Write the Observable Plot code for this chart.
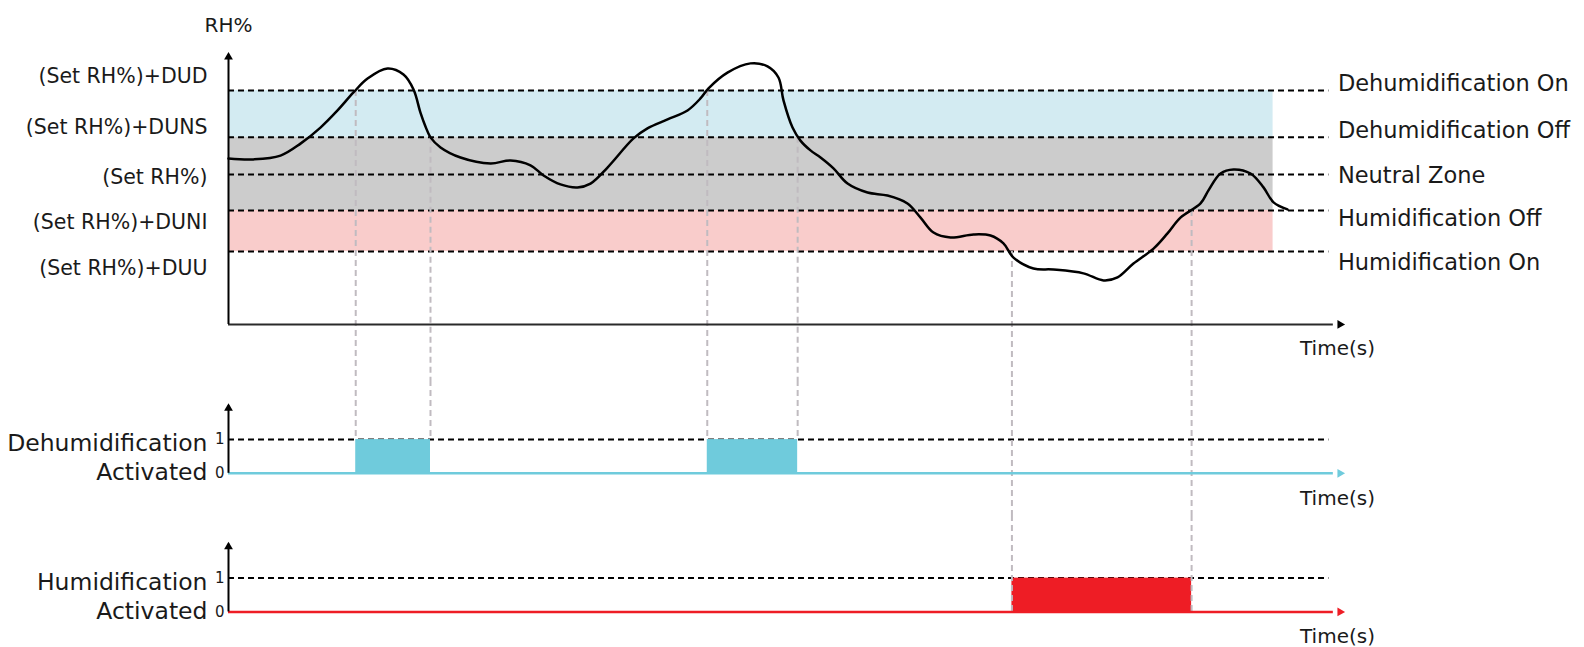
<!DOCTYPE html>
<html>
<head>
<meta charset="utf-8">
<script src="https://cdn.jsdelivr.net/npm/d3@7"></script>
<script src="https://cdn.jsdelivr.net/npm/@observablehq/plot@0.6"></script>
<style>
  html, body { margin: 0; padding: 0; background: #fff; overflow: hidden; }
  #chart svg { display: block; }
</style>
</head>
<body>
<div id="chart"></div>
<script>
// ---------- data ----------
const timeDomain = [0, 100];
const levelKeys = ["DUD", "DUNS", "Set", "DUNI", "DUU"];
const levelRH = [86.0, 68.8, 55.1, 41.9, 26.8];
const leftLabels = ["(Set RH%)+DUD", "(Set RH%)+DUNS", "(Set RH%)", "(Set RH%)+DUNI", "(Set RH%)+DUU"];
const leftLabelRH = [91.2, 72.4, 54.0, 37.5, 20.6];
const rightLabels = ["Dehumidification On", "Dehumidification Off", "Neutral Zone", "Humidification Off", "Humidification On"];
const rightLabelRH = [88.6, 71.3, 54.8, 39.0, 22.8];

const curveT = [0, 2.24, 4.66, 6.45, 8.24, 9.77, 11.2, 12.46, 14.25, 15.68, 16.58, 17.2, 17.65, 18.1, 19.0, 20.79,
  23.48, 25.27, 27.06, 28.23, 29.75, 31.27, 32.44, 33.96, 36.29, 37.54, 39.34, 41.13, 42.29, 43.01, 44.71, 46.77,
  48.3, 49.28, 49.73, 50.54, 51.25, 52.15, 53.05, 54.21, 55.47, 57.26, 59.05, 60.84, 62.01, 63.17, 64.7, 66.76,
  68.28, 69.44, 70.34, 72.13, 73.92, 76.61, 78.41, 79.66, 81.09, 82.89, 84.14, 85.3, 87.1, 87.81, 88.89, 90.05,
  91.58, 92.74, 93.64, 94.89];
const curveRH = [61.0, 60.7, 62.1, 66.5, 72.4, 78.7, 85.3, 90.4, 94.1, 91.9, 86.4, 77.9, 72.8, 68.8, 65.1, 61.4,
  59.2, 60.3, 58.5, 54.8, 51.5, 50.4, 51.8, 57.7, 68.4, 72.1, 75.4, 78.7, 83.1, 86.8, 92.6, 96.0,
  94.9, 90.8, 82.4, 72.4, 67.6, 64.0, 61.4, 57.4, 51.8, 48.5, 47.4, 44.5, 39.3, 33.8, 32.0, 33.1,
  32.7, 29.8, 24.6, 20.6, 20.2, 18.8, 16.2, 17.3, 22.4, 27.9, 33.5, 39.3, 44.5, 49.3, 55.5, 57.0,
  55.5, 50.4, 44.9, 42.3];

const bandEndT = 93.6;   // shaded zones end
const levelEndT = 98.6;  // dashed threshold lines end

const dehumStart = [11.4, 42.9];
const dehumEnd = [18.1, 51.0];
const humStart = [70.2];
const humEnd = [86.3];

// ---------- styles ----------
const FONT = "DejaVu Sans";
const TXT = "#1a1a1a";
const blueBand = "#d3ebf2", grayBand = "#cccccc", pinkBand = "#f9cccb";
const blueOn = "#6fcbdc", redOn = "#ee1d25";
const guide = "#c0bbc0";
const dash = "6,4";

// ---------- derived tables ----------
const lv = Object.fromEntries(levelKeys.map((k, i) => [k, levelRH[i]]));
const curve = curveT.map((t, i) => ({t, rh: curveRH[i]}));
const bands = [
  {lo: lv.DUNS, hi: lv.DUD, fill: blueBand},
  {lo: lv.DUNI, hi: lv.DUNS, fill: grayBand},
  {lo: lv.DUU, hi: lv.DUNI, fill: pinkBand}
];
const dehumPeriods = dehumStart.map((s, i) => ({start: s, end: dehumEnd[i]}));
const humPeriods = humStart.map((s, i) => ({start: s, end: humEnd[i]}));
const dehumGuides = dehumPeriods.flatMap(p => [{t: p.start, rh: lv.DUD}, {t: p.end, rh: lv.DUNS}]);
const humGuides = humPeriods.flatMap(p => [{t: p.start, rh: lv.DUU}, {t: p.end, rh: lv.DUNI}]);
const allGuides = [...dehumGuides, ...humGuides];
const leftRows = leftLabels.map((s, i) => ({s, y: leftLabelRH[i]}));
const rightRows = rightLabels.map((s, i) => ({s, y: rightLabelRH[i]}));

const W = 1584, ML = 228, MR = 240;
const common = {width: W, marginLeft: ML, marginRight: MR, marginTop: 0, marginBottom: 0,
  style: {fontFamily: FONT, background: "#fff"}};

// ---------- top chart ----------
const topDomain = [-20.6, 100];
const topChart = Plot.plot({
  ...common, height: 380, marginTop: 52,
  x: {domain: timeDomain, axis: null},
  y: {domain: topDomain, axis: null},
  color: {type: "identity"},
  marks: [
    Plot.rect(bands, {x1: 0, x2: bandEndT, y1: "lo", y2: "hi", fill: "fill"}),
    Plot.ruleY(levelRH, {x1: 0, x2: levelEndT, stroke: "#000", strokeWidth: 2, strokeDasharray: dash}),
    Plot.ruleX(allGuides, {x: "t", y1: "rh", y2: topDomain[0], stroke: guide, strokeWidth: 2, strokeDasharray: dash}),
    Plot.ruleY([0], {x1: 0, x2: 99, stroke: "#2a2a2a", strokeWidth: 2}),
    Plot.ruleX([0], {y1: 0, y2: 98, stroke: "#000", strokeWidth: 2}),
    Plot.dot([{x: 0, y: 100}], {x: "x", y: "y", symbol: "triangle2", r: 4.2, fill: "#000", dy: 4.5}),
    Plot.dot([{x: 100, y: 0}], {x: "x", y: "y", symbol: "triangle2", r: 4.2, fill: "#000", rotate: 90, dx: -4.5}),
    Plot.line(curve, {x: "t", y: "rh", curve: "catmull-rom", stroke: "#000", strokeWidth: 2.5}),
    Plot.text(leftRows, {x: 0, y: "y", text: "s", textAnchor: "end", dx: -21, fontSize: 20.5, fill: TXT}),
    Plot.text(rightRows, {x: levelEndT, y: "y", text: "s", textAnchor: "start", dx: 9, fontSize: 22.5, fill: TXT}),
    Plot.text(["RH%"], {x: 0, y: 100, text: d => d, dy: -27, fontSize: 20, fill: TXT}),
    Plot.text(["Time(s)"], {x: 100, y: 0, text: d => d, dx: -7, dy: 24, fontSize: 20, fill: TXT})
  ]
});

// ---------- activation panels ----------
function panel({height, domain, periods, color, guidesToBar, guidesThrough, label}) {
  return Plot.plot({
    ...common, height,
    x: {domain: timeDomain, axis: null},
    y: {domain, axis: null},
    marks: [
      Plot.ruleY([1], {x1: 0, x2: levelEndT, stroke: "#000", strokeWidth: 2, strokeDasharray: dash}),
      Plot.rect(periods, {x1: "start", x2: "end", y1: 0, y2: 1, fill: color}),
      Plot.ruleX(guidesToBar, {x: "t", y1: domain[1], y2: 1, stroke: guide, strokeWidth: 2, strokeDasharray: dash}),
      Plot.ruleX(guidesThrough, {x: "t", y1: domain[1], y2: guidesToBar.length ? domain[0] : 0, stroke: guide, strokeWidth: 2, strokeDasharray: dash}),
      Plot.ruleY([0], {x1: 0, x2: 99, stroke: color, strokeWidth: 2.5}),
      Plot.dot([{x: 100, y: 0}], {x: "x", y: "y", symbol: "triangle2", r: 4.2, fill: color, rotate: 90, dx: -4.5}),
      Plot.ruleX([0], {y1: 0, y2: 2.0, stroke: "#000", strokeWidth: 2}),
      Plot.dot([{x: 0, y: 2.06}], {x: "x", y: "y", symbol: "triangle2", r: 4.2, fill: "#000", dy: 4.5}),
      Plot.text([0, 1], {x: 0, y: d => d, text: d => String(d), textAnchor: "end", dx: -4, fontSize: 15, fill: TXT}),
      Plot.text([label], {x: 0, y: 0.5, text: d => d, textAnchor: "end", lineAnchor: "middle", lineHeight: 1.22, dx: -21, fontSize: 23.5, fill: TXT}),
      Plot.text(["Time(s)"], {x: 100, y: 0, text: d => d, dx: -7, dy: 25, fontSize: 20, fill: TXT})
    ]
  });
}

const midChart = panel({
  height: 135, domain: [-1.25, 2.75], periods: dehumPeriods, color: blueOn,
  guidesToBar: dehumGuides, guidesThrough: humGuides, label: "Dehumidification\nActivated"
});
const botChart = panel({
  height: 132, domain: [-1.05, 2.85], periods: humPeriods, color: redOn,
  guidesToBar: [], guidesThrough: humGuides, label: "Humidification\nActivated"
});

document.getElementById("chart").append(topChart, midChart, botChart);
</script>
</body>
</html>
